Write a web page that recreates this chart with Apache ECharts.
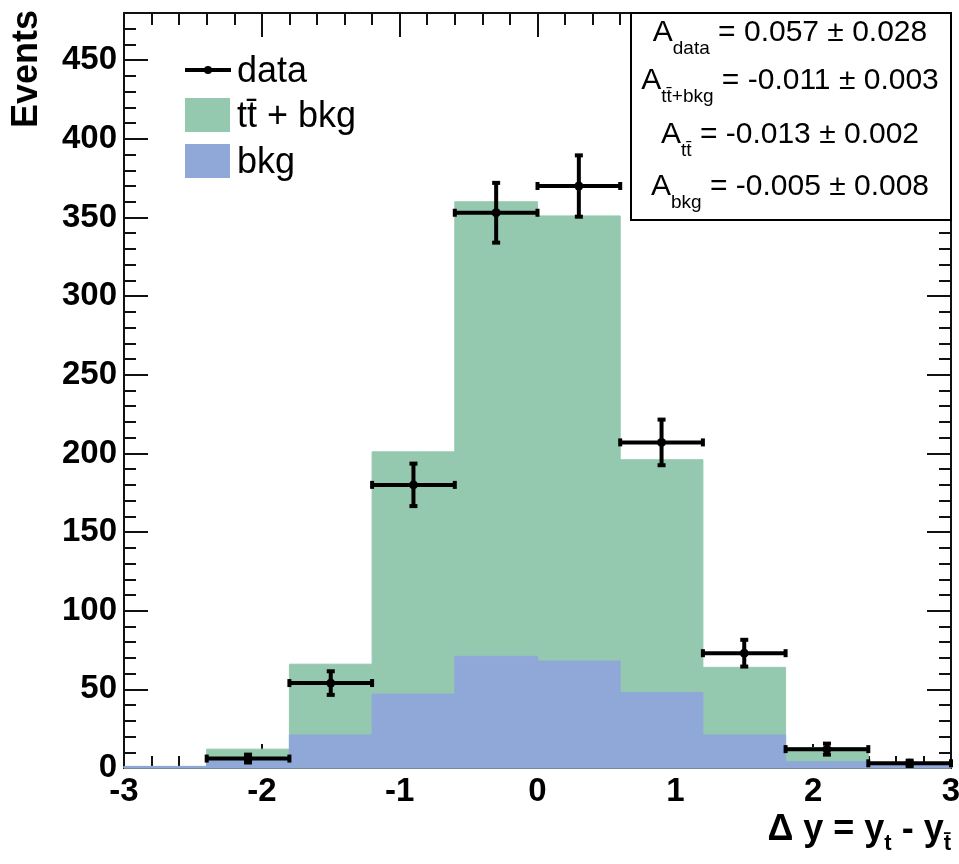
<!DOCTYPE html>
<html><head><meta charset="utf-8">
<script src="https://cdn.jsdelivr.net/npm/echarts@6/dist/echarts.min.js"></script>
<style>html,body{margin:0;padding:0;background:#fff}#c{width:959px;height:864px}</style>
</head><body><div id="c"></div>
<script>
// ---- data ----
const binEdges = [-3, -2.4, -1.8, -1.2, -0.6, 0, 0.6, 1.2, 1.8, 2.4, 3];
const ttbarPlusBkg = [1, 12, 66, 201, 360, 351, 196, 64, 13, 3];
const bkgValues = [1, 5, 21, 47, 71, 68, 48, 21, 4, 2];
const dataValues = [null, 6, 54, 180, 353, 370, 207, 73, 12, 3];
const dataErrors = [0, 2.5, 7.5, 13.5, 19, 19.5, 14.5, 8.5, 3.5, 1.7];
const yMajorTicks = [0, 50, 100, 150, 200, 250, 300, 350, 400, 450];
const xTickLabels = [-3, -2, -1, 0, 1, 2, 3];
const asymNames = ['data', 'tt\u0304+bkg', 'tt\u0304', 'bkg'];
const asymValues = ['0.057', '-0.011', '-0.013', '-0.005'];
const asymErrors = ['0.028', '0.003', '0.002', '0.008'];
const legendNames = ['data', 'tt\u0304 + bkg', 'bkg'];

const GREEN = '#94c9af', BLUE = '#8fa8d8', INK = '#111';
const FONT = 'Liberation Sans, Arial, Helvetica, sans-serif';

const chart = echarts.init(document.getElementById('c'), null, {renderer: 'canvas'});

function histData(vals) {
  return vals.map((v, i) => [binEdges[i], binEdges[i + 1], v]);
}
function rectRender(color) {
  return function (params, api) {
    const lo = api.value(0), hi = api.value(1), v = api.value(2);
    const p1 = api.coord([lo, v]);
    const p2 = api.coord([hi, 0]);
    return {type: 'rect', shape: {x: p1[0], y: p1[1], width: p2[0] - p1[0], height: p2[1] - p1[1]},
      style: {fill: color, stroke: color, lineWidth: 1}};
  };
}
const pointData = [];
dataValues.forEach((v, i) => {
  if (v !== null) pointData.push([binEdges[i], binEdges[i + 1], (binEdges[i] + binEdges[i + 1]) / 2, v, dataErrors[i]]);
});

function xAx(pos, showLabel) {
  return {
    type: 'value', position: pos, min: -3, max: 3, interval: 1,
    axisLine: {show: true, onZero: false, lineStyle: {color: INK, width: 2}},
    axisTick: {show: true, inside: true, length: 24, lineStyle: {color: INK, width: 2}},
    minorTick: {show: true, splitNumber: 5, length: 12, lineStyle: {color: INK, width: 2}},
    axisLabel: {show: showLabel, margin: 7, fontFamily: FONT, fontWeight: 'bold', fontSize: 33, color: '#000',
      customValues: xTickLabels},
    splitLine: {show: false}, minorSplitLine: {show: false}
  };
}
function yAx(pos, major, showLabel, showLine) {
  const ax = {
    type: 'value', position: pos, min: 0, max: 480, interval: 10, offset: 0,
    axisLine: {show: showLine, onZero: false, lineStyle: {color: INK, width: 2}},
    axisTick: {show: true, inside: true, length: major ? 24 : 12, lineStyle: {color: INK, width: 2}},
    axisLabel: {show: showLabel, margin: 7, fontFamily: FONT, fontWeight: 'bold', fontSize: 33, color: '#000',
      customValues: yMajorTicks},
    splitLine: {show: false}
  };
  if (major) ax.axisTick.customValues = yMajorTicks;
  return ax;
}

// stats box text lines
const statCenters = [33, 81, 135, 187];
const statTexts = asymNames.map((n, i) => ({
  type: 'text', x: 790, y: statCenters[i], z: 10,
  style: {
    text: '{a|A}{s|' + n + '}{a| = ' + asymValues[i] + ' \u00b1 ' + asymErrors[i] + '}',
    align: 'center', verticalAlign: 'middle',
    rich: {
      a: {fontFamily: FONT, fontSize: 30, lineHeight: 50, fill: '#000'},
      s: {fontFamily: FONT, fontSize: 19, lineHeight: 10, verticalAlign: 'bottom', fill: '#000'}
    }
  }
}));

const legendRows = [70, 115, 161];
const legendGraphics = [
  {type: 'line', shape: {x1: 185, y1: legendRows[0], x2: 231, y2: legendRows[0]}, style: {stroke: '#000', lineWidth: 4}},
  {type: 'circle', shape: {cx: 208, cy: legendRows[0], r: 4}, style: {fill: '#000'}},
  {type: 'rect', shape: {x: 185, y: legendRows[1] - 17, width: 45, height: 34}, style: {fill: GREEN}},
  {type: 'rect', shape: {x: 185, y: legendRows[2] - 17, width: 45, height: 34}, style: {fill: BLUE}}
].concat(legendNames.map((n, i) => ({
  type: 'text', x: 237, y: legendRows[i] + 2, style: {text: n, fontFamily: FONT, fontSize: 36, fill: '#000',
    align: 'left', verticalAlign: 'middle'}
})));

const option = {
  animation: false,
  backgroundColor: '#fff',
  grid: {left: 124, right: 8, top: 13, bottom: 96, containLabel: false, outerBoundsMode: 'none'},
  xAxis: [xAx('bottom', true), xAx('top', false)],
  yAxis: [yAx('left', true, true, true), yAx('left', false, false, false),
          yAx('right', true, false, true), yAx('right', false, false, false)],
  series: [
    {name: 'tt\u0304 + bkg', type: 'custom', xAxisIndex: 0, yAxisIndex: 0, data: histData(ttbarPlusBkg),
      encode: {x: [0, 1], y: 2}, renderItem: rectRender(GREEN), z: 1},
    {name: 'bkg', type: 'custom', xAxisIndex: 0, yAxisIndex: 0, data: histData(bkgValues),
      encode: {x: [0, 1], y: 2}, renderItem: rectRender(BLUE), z: 2},
    {name: 'data', type: 'custom', xAxisIndex: 0, yAxisIndex: 0, data: pointData, z: 5,
      encode: {x: [0, 1, 2], y: 3},
      renderItem: function (params, api) {
        const lo = api.value(0), hi = api.value(1), c = api.value(2), v = api.value(3), e = api.value(4);
        const pl = api.coord([lo, v]), ph = api.coord([hi, v]), pc = api.coord([c, v]);
        const pt = api.coord([c, v + e]), pb = api.coord([c, v - e]);
        const st = {stroke: '#000', lineWidth: 4};
        const cap = 4;
        return {type: 'group', children: [
          {type: 'line', shape: {x1: pl[0], y1: pl[1], x2: ph[0], y2: ph[1]}, style: st},
          {type: 'line', shape: {x1: pl[0], y1: pl[1] - cap, x2: pl[0], y2: pl[1] + cap}, style: st},
          {type: 'line', shape: {x1: ph[0], y1: ph[1] - cap, x2: ph[0], y2: ph[1] + cap}, style: st},
          {type: 'line', shape: {x1: pt[0], y1: pt[1], x2: pb[0], y2: pb[1]}, style: st},
          {type: 'line', shape: {x1: pt[0] - cap, y1: pt[1], x2: pt[0] + cap, y2: pt[1]}, style: st},
          {type: 'line', shape: {x1: pb[0] - cap, y1: pb[1], x2: pb[0] + cap, y2: pb[1]}, style: st},
          {type: 'circle', shape: {cx: pc[0], cy: pc[1], r: 4.5}, style: {fill: '#000'}}
        ]};
      }}
  ],
  graphic: [
    {type: 'rect', z: 9, shape: {x: 631, y: 13, width: 320, height: 207}, style: {fill: '#fff', stroke: '#000', lineWidth: 2}},
    {type: 'text', x: 27, y: 69, rotation: Math.PI / 2,
      style: {text: 'Events', fontFamily: FONT, fontWeight: 'bold', fontSize: 36, fill: '#000', align: 'center', verticalAlign: 'middle'}},
    {type: 'text', x: 951, y: 830,
      style: {text: '{m|\u0394 y = y}{s|t}{m| - y}{s|t\u0304}', align: 'right', verticalAlign: 'middle',
        rich: {
          m: {fontFamily: FONT, fontWeight: 'bold', fontSize: 36, lineHeight: 50, fill: '#000'},
          s: {fontFamily: FONT, fontWeight: 'bold', fontSize: 22, lineHeight: 18, verticalAlign: 'bottom', fill: '#000'}
        }}}
  ].concat(statTexts).concat(legendGraphics)
};
chart.setOption(option);
</script>
</body></html>
